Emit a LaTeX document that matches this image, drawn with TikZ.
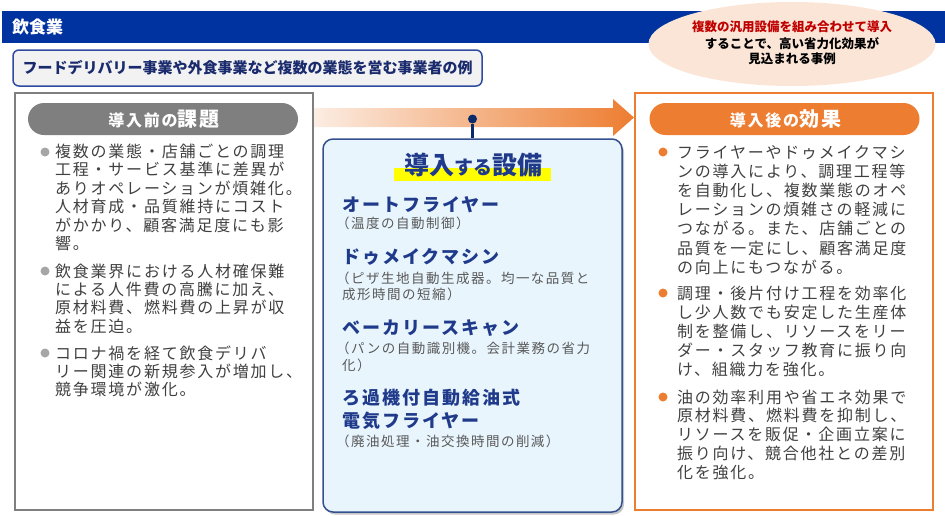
\documentclass[tikz,border=0pt]{standalone}
\usepackage{fontspec}
\setmainfont{Noto Sans CJK JP}
\newfontfamily\jp{Noto Sans CJK JP}
\newfontfamily\jpls[LetterSpace=11]{Noto Sans CJK JP}
\usetikzlibrary{shadows,shapes.geometric}
\definecolor{barblue}{HTML}{0033A0}
\definecolor{navy}{HTML}{1F3A8A}
\definecolor{subnavy}{HTML}{1A2B6D}
\definecolor{subborder}{HTML}{2F4BA0}
\definecolor{subfill}{HTML}{F2F2F2}
\definecolor{peach}{HTML}{FBE5D6}
\definecolor{arrowlight}{HTML}{FCEDE3}
\definecolor{myorange}{HTML}{ED7D31}
\definecolor{pillgray}{HTML}{7F7F7F}
\definecolor{bulgray}{HTML}{A6A6A6}
\definecolor{textgray}{HTML}{404040}
\definecolor{subgray}{HTML}{595959}
\definecolor{boxblue}{HTML}{E8F5FD}
\definecolor{boxborder}{HTML}{34508F}
\definecolor{darkred}{HTML}{C00000}
\definecolor{dotnavy}{HTML}{0B2A6B}
\definecolor{hilite}{HTML}{FFFF00}
\tikzset{
  ln/.style={anchor=base west, inner sep=0pt},
  body/.style={ln, text=textgray, font=\jpls\fontsize{16}{16}\selectfont},
  eqname/.style={ln, text=navy, font=\jpls\bfseries\fontsize{18}{18}\selectfont},
  eqnote/.style={ln, text=subgray, font=\jpls\fontsize{13.5}{13.5}\selectfont},
  elltext/.style={anchor=base, inner sep=0pt, font=\jp\bfseries\fontsize{12.5}{12.5}\selectfont},
  pill/.style={rounded corners=16pt, minimum width=270pt, minimum height=32pt, inner sep=0pt, text=white, font=\jpls\bfseries},
  bigbox/.style={line width=2pt, minimum width=298pt, minimum height=417pt, inner sep=0pt},
  bullet/.style={circle, inner sep=0pt, minimum size=9pt},
}
\begin{document}
\begin{tikzpicture}[x=1pt,y=-1pt]
\useasboundingbox (0,0) rectangle (945,515);
% title bar
\fill[barblue] (2,11) rectangle (945,43);
\node[ln, text=white, font=\jp\bfseries\fontsize{17}{17}\selectfont] (title) at (12,33.5) {飲食業};
% ellipse
\node[ellipse, fill=peach, minimum width=287pt, minimum height=84pt, inner sep=0pt] (ell) at (792,44) {};
\node[elltext, text=darkred] (e1) at (792,31.8) {複数の汎用設備を組み合わせて導入};
\node[elltext, text=black] (e2) at (792,48.3) {することで、高い省力化効果が};
\node[elltext, text=black] (e3) at (792,63.8) {見込まれる事例};
% subtitle
\node[draw=subborder, line width=1.5pt, fill=subfill, rounded corners=6pt, minimum width=469pt, minimum height=36pt, inner sep=0pt, text=subnavy, font=\jp\bfseries\fontsize{15}{15}\selectfont] (sub) at (247.5,68) {};
\node[anchor=base, inner sep=0pt, text=subnavy, font=\jp\bfseries\fontsize{15}{15}\selectfont] (subt) at (247.5,73.7) {フードデリバリー事業や外食事業など複数の業態を営む事業者の例};
% gradient arrow
\shade[left color=arrowlight, right color=myorange] (313,108) -- (613,108) -- (613,99) -- (634,117.5) -- (613,136) -- (613,127) -- (313,127) -- cycle;
% left box
\node[draw=pillgray, bigbox] (left) at (164,301.5) {};
\node[pill, fill=pillgray] (lpill) at (163,119) {};
\node[anchor=base, inner sep=0pt, text=white, font=\jpls\bfseries] (lpillt) at (164,126) {{\fontsize{16}{16}\selectfont 導入前の}{\fontsize{20}{20}\selectfont 課題}};
% right box
\node[draw=myorange, bigbox] (right) at (784,301.5) {};
\node[pill, fill=myorange] (rpill) at (784.5,119) {};
\node[anchor=base, inner sep=0pt, text=white, font=\jpls\bfseries] (rpillt) at (785.5,126) {{\fontsize{16}{16}\selectfont 導入後の}{\fontsize{20}{20}\selectfont 効果}};
% centre box
\node[draw=boxborder, line width=1.5pt, fill=boxblue, rounded corners=10pt, minimum width=299pt, minimum height=373pt, inner sep=0pt, drop shadow={opacity=0.45, shadow xshift=2pt, shadow yshift=-2.5pt}] (equip) at (472.5,325.5) {};
\node[bullet, fill=dotnavy] (dot) at (472.5,119) {};
\draw[dotnavy, line width=3pt] (dot) -- (equip.north);
\fill[hilite] (394,168) rectangle (551,181);
\node[anchor=base, inner sep=0pt, text=navy, font=\jp\bfseries] (eqtitle) at (473,174.5) {{\fontsize{25}{25}\selectfont 導入}{\fontsize{19}{19}\selectfont する}{\fontsize{25}{25}\selectfont 設備}};
\node[eqname] (q1) at (342,211.8) {オートフライヤー};
\node[eqnote] (q1n) at (336,228.1) {（温度の自動制御）};
\node[eqname] (q2) at (342,263.8) {ドゥメイクマシン};
\node[eqnote] (q2n) at (336,283.1) {（ピザ生地自動生成器。均一な品質と};
\node[eqnote] (q2m) at (342,299.1) {成形時間の短縮）};
\node[eqname] (q3) at (342,334.8) {ベーカリースキャン};
\node[eqnote] (q3n) at (336,353.1) {（パンの自動識別機。会計業務の省力};
\node[eqnote] (q3m) at (342,370.1) {化）};
\node[eqname] (q4) at (342,404.8) {ろ過機付自動給油式};
\node[eqname] (q4b) at (342,427.8) {電気フライヤー};
\node[eqnote] (q4n) at (336,446.1) {（廃油処理・油交換時間の削減）};
% left bullets
\node[bullet, fill=bulgray] (lb1) at (45,152) {};
\foreach \t [count=\i] in {複数の業態・店舗ごとの調理,工程・サービス基準に差異が,ありオペレーションが煩雑化。,人材育成・品質維持にコスト,がかかり、顧客満足度にも影,響。}
  \node[body] (la-\i) at (55,{157.6+(\i-1)*18.35}) {\t};
\node[bullet, fill=bulgray] (lb2) at (45,271) {};
\foreach \t [count=\i] in {飲食業界における人材確保難,による人件費の高騰に加え、,原材料費、燃料費の上昇が収,益を圧迫。}
  \node[body] (lc-\i) at (55,{277.1+(\i-1)*18.35}) {\t};
\node[bullet, fill=bulgray] (lb3) at (45,353) {};
\foreach \t [count=\i] in {コロナ禍を経て飲食デリバ,リー関連の新規参入が増加し、,競争環境が激化。}
  \node[body] (ld-\i) at (55,{359.1+(\i-1)*18.35}) {\t};
% right bullets
\node[bullet, fill=myorange] (rb1) at (663,152) {};
\foreach \t [count=\i] in {フライヤーやドゥメイクマシ,ンの導入により、調理工程等,を自動化し、複数業態のオペ,レーションの煩雑さの軽減に,つながる。また、店舗ごとの,品質を一定にし、顧客満足度,の向上にもつながる。}
  \node[body] (ra-\i) at (677,{158.1+(\i-1)*19.2}) {\t};
\node[bullet, fill=myorange] (rb2) at (663,293) {};
\foreach \t [count=\i] in {調理・後片付け工程を効率化,し少人数でも安定した生産体,制を整備し、リソースをリー,ダー・スタッフ教育に振り向,け、組織力を強化。}
  \node[body] (rc-\i) at (677,{299.1+(\i-1)*19.0}) {\t};
\node[bullet, fill=myorange] (rb3) at (663,397) {};
\foreach \t [count=\i] in {油の効率利用や省エネ効果で,原材料費、燃料費を抑制し、,リソースを販促・企画立案に,振り向け、競合他社との差別,化を強化。}
  \node[body] (rd-\i) at (677,{403.1+(\i-1)*18.8}) {\t};
\end{tikzpicture}
\end{document}
